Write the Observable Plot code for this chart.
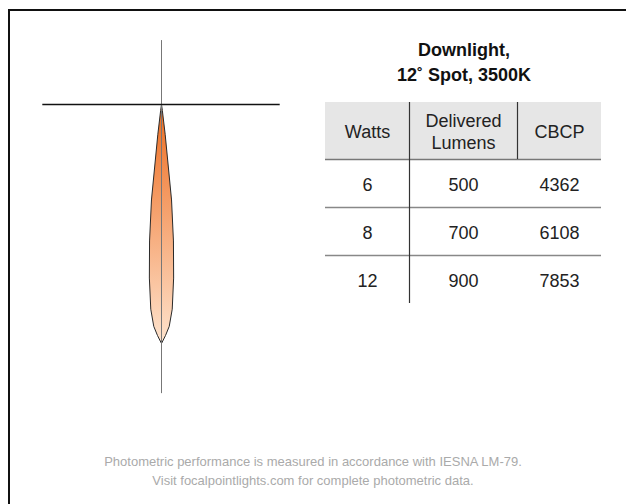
<!DOCTYPE html>
<html><head><meta charset="utf-8">
<script src="https://cdn.jsdelivr.net/npm/d3@7"></script>
<script src="https://cdn.jsdelivr.net/npm/@observablehq/plot@0.6"></script>
<style>
body{margin:0;background:#fff;font-family:"Liberation Sans",Helvetica,Arial,sans-serif;}
#page{position:relative;width:626px;height:504px;overflow:hidden;background:#fff;}
#frame{position:absolute;left:8px;top:9px;width:700px;height:600px;border-left:2px solid #111;border-top:2px solid #111;}
#title{position:absolute;left:314px;width:300px;top:38px;text-align:center;font-weight:bold;font-size:18px;line-height:25px;color:#111;}
#beam{position:absolute;left:0;top:0;}
#table{position:absolute;left:325px;top:102px;}
#caption{position:absolute;left:0;width:626px;top:452px;text-align:center;font-size:13px;line-height:19px;color:#aaa;}
</style></head>
<body><div id="page"><div id="frame"></div><div id="title"></div><div id="beam"></div><div id="table"></div><div id="caption"></div></div>
<script>
// ---- data ----
const titleLines = ["Downlight,", "12˚ Spot, 3500K"];
const captionLines = [
  "Photometric performance is measured in accordance with IESNA LM-79.",
  "Visit focalpointlights.com for complete photometric data."
];
// candela distribution (angle from nadir, degrees) — symmetric beam
const angles  = [0, 1, 2, 3, 4, 5, 6, 7, 8, 9];
const candela = [7853, 7590, 7294, 6736, 5717, 4501, 3154, 986, 197, 0];
// axis extents of the polar diagram, in candela units
const horizExtent = [-3900, 3900];
const vertExtent = [-2100, 9500];
// table
const headers = ["Watts", "Delivered\nLumens", "CBCP"];
const watts   = [6, 8, 12];
const lumens  = [500, 700, 900];
const cbcp    = [4362, 6108, 7853];

// ---- text ----
document.getElementById("title").innerHTML = titleLines.join("<br>");
document.getElementById("caption").innerHTML = captionLines.join("<br>");

// ---- beam diagram ----
const W = 320, H = 420, cx = 161, cy = 104;
const k = 239 / d3.max(candela); // px per candela
const rad = Math.PI / 180;
const pts = [];
for (let i = angles.length - 1; i >= 0; i--) pts.push({a: -angles[i], cd: candela[i]});
for (let i = 1; i < angles.length; i++) pts.push({a: angles[i], cd: candela[i]});

const gradient = () => {
  const defs = d3.create("svg:defs");
  const lg = defs.append("linearGradient").attr("id", "beamGrad")
    .attr("x1", 0).attr("y1", 0).attr("x2", 0).attr("y2", 1);
  lg.append("stop").attr("offset", "0%").attr("stop-color", "#ee6c1f");
  lg.append("stop").attr("offset", "100%").attr("stop-color", "#fee3cd");
  return defs.node();
};

const beam = Plot.plot({
  width: W, height: H, margin: 0,
  x: {domain: [-cx / k, (W - cx) / k], range: [0, W], axis: null},
  y: {domain: [-cy / k, (H - cy) / k], range: [0, H], axis: null},
  marks: [
    gradient,
    Plot.line(pts, {
      x: d => d.cd * Math.sin(d.a * rad),
      y: d => d.cd * Math.cos(d.a * rad),
      curve: "linear-closed",
      fill: "url(#beamGrad)", stroke: "#2a2a2a", strokeWidth: 1
    }),
    Plot.ruleX([0], {y1: vertExtent[0], y2: vertExtent[1], stroke: "#777", strokeWidth: 1}),
    Plot.ruleY([0], {x1: horizExtent[0], x2: horizExtent[1], stroke: "#111", strokeWidth: 1.5})
  ]
});
document.getElementById("beam").append(beam);

// ---- table ----
const colW = [84, 108, 84];
const headH = 57, rowH = 48;
const edges = d3.cumsum([0, ...colW]);
const tableW = edges[edges.length - 1];
const tableH = headH + rowH * watts.length;
const mids = colW.map((w, i) => edges[i] + w / 2);
const cells = [];
watts.forEach((w, i) => {
  [w, lumens[i], cbcp[i]].forEach((v, j) => cells.push({col: j, row: i, text: String(v)}));
});
// separators between data rows
const rowLines = watts.slice(1).map((_, i) => headH + (i + 1) * rowH);

const table = Plot.plot({
  width: tableW, height: tableH + 2, margin: 0,
  style: {fontFamily: '"Liberation Sans", Helvetica, Arial, sans-serif'},
  x: {domain: [0, tableW], range: [0, tableW], axis: null},
  y: {domain: [0, tableH + 2], range: [0, tableH + 2], axis: null},
  marks: [
    Plot.rect([0], {x1: 0, x2: tableW, y1: 0, y2: headH, fill: "#e6e6e6"}),
    Plot.ruleY([headH], {x1: 0, x2: tableW, stroke: "#777", strokeWidth: 1.6}),
    Plot.ruleY(rowLines, {x1: 0, x2: tableW, stroke: "#888", strokeWidth: 1.6}),
    Plot.ruleX([edges[1]], {y1: 0, y2: tableH, stroke: "#333", strokeWidth: 1.2}),
    Plot.ruleX([edges[2]], {y1: 0, y2: headH, stroke: "#333", strokeWidth: 1.2}),
    Plot.text(headers, {x: (d, i) => mids[i], y: headH / 2, text: d => d, fontSize: 18, lineHeight: 1.22, fill: "#222"}),
    Plot.text(cells, {x: d => mids[d.col], y: d => headH + (d.row + 0.5) * rowH, text: "text", fontSize: 18, fill: "#222", dy: 2})
  ]
});
document.getElementById("table").append(table);
</script>
</body></html>
